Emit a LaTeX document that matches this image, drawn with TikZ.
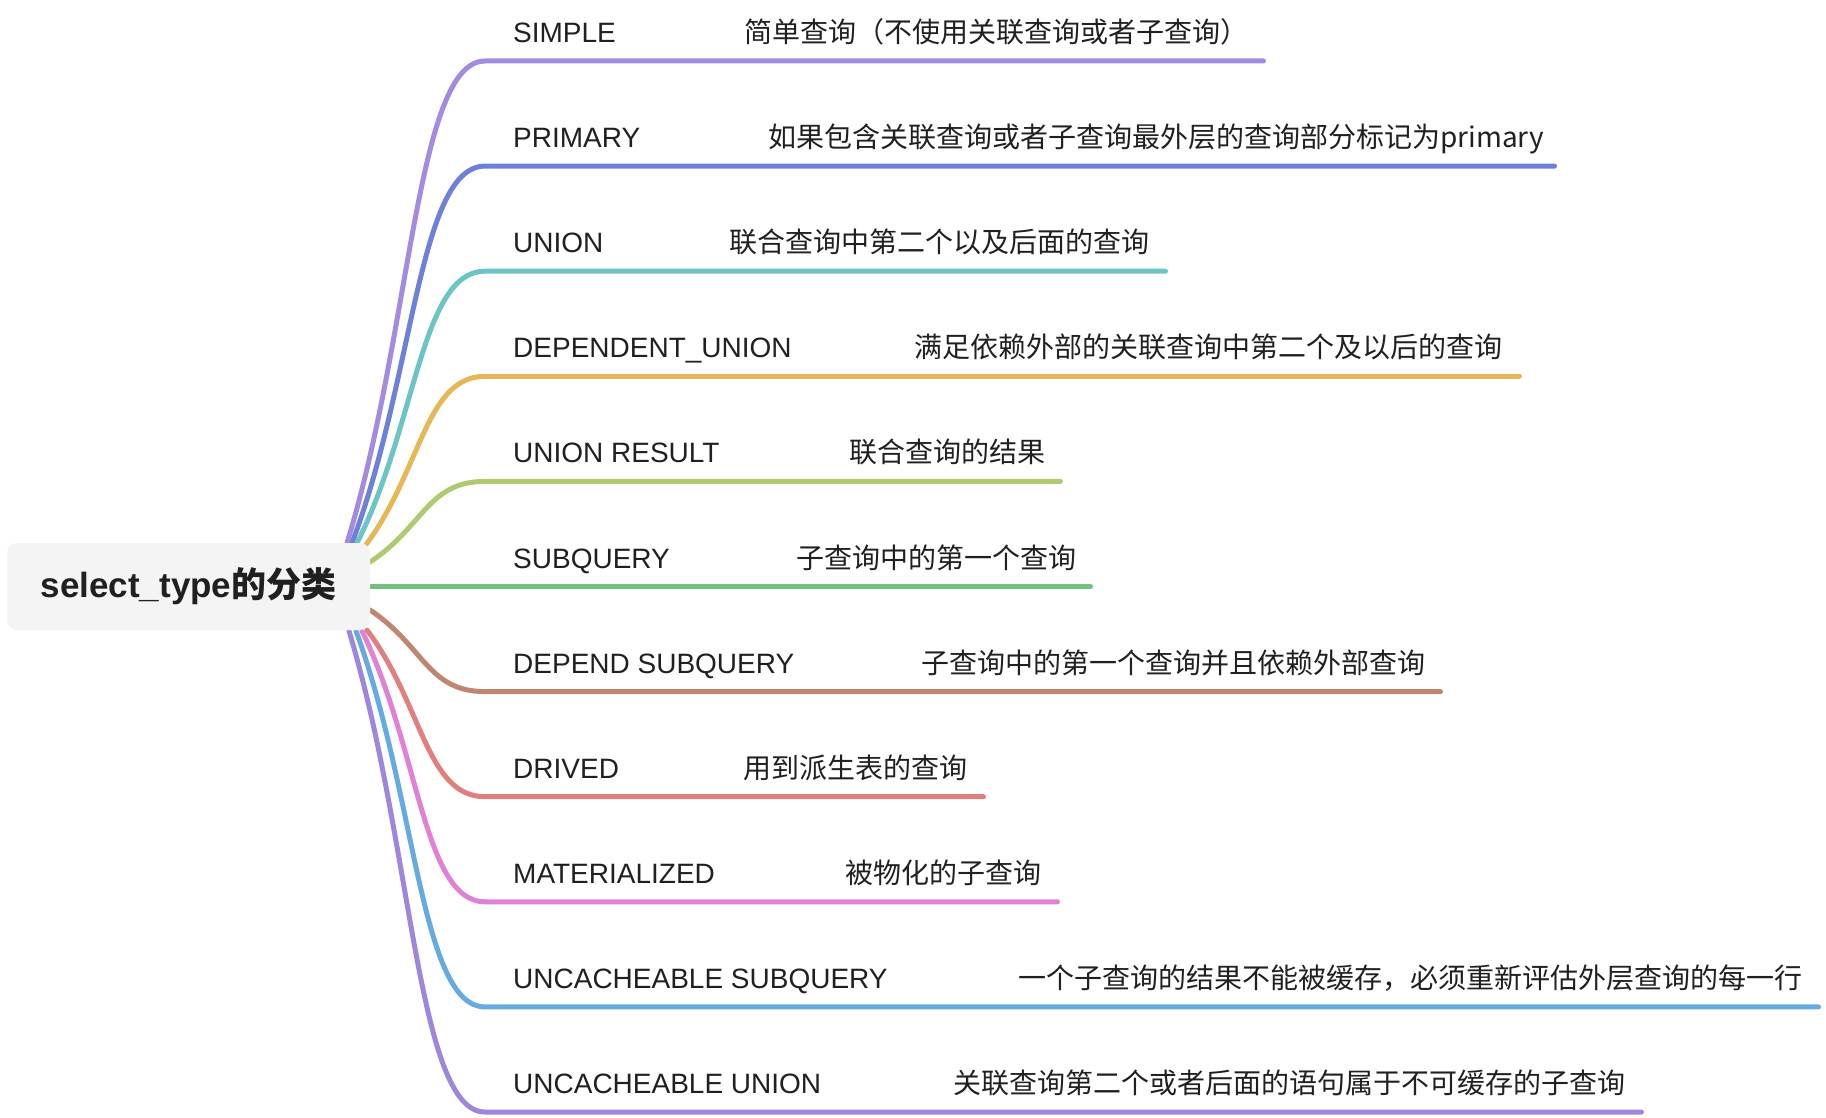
\documentclass[tikz,border=0pt]{standalone}
\usepackage{fontspec}
\setmainfont{Liberation Sans}
\newfontfamily\cjk{Noto Sans CJK SC}
\definecolor{c0}{HTML}{A48AE0}
\definecolor{c1}{HTML}{6D80DA}
\definecolor{c2}{HTML}{6DC4C4}
\definecolor{c3}{HTML}{E5B757}
\definecolor{c4}{HTML}{AFCA70}
\definecolor{c5}{HTML}{74C07F}
\definecolor{c6}{HTML}{C08672}
\definecolor{c7}{HTML}{E07F7E}
\definecolor{c8}{HTML}{E081D6}
\definecolor{c9}{HTML}{65AAE0}
\definecolor{c10}{HTML}{9E86DD}
\definecolor{boxgray}{HTML}{F4F4F4}
\definecolor{txt}{HTML}{202020}
\begin{document}
\begin{tikzpicture}[x=1pt,y=-1pt,
  branch/.style={line width=5pt,line cap=round},
  lab/.style={anchor=base west,inner sep=0pt,text=txt,font=\fontsize{28}{34}\selectfont},
  desc/.style={anchor=base west,inner sep=0pt,text=txt,font=\fontsize{28}{34}\selectfont\cjk},
  rootbox/.style={fill=boxgray,rounded corners=10pt,minimum width=363pt,minimum height=87pt,inner sep=0pt,text=txt,font=\fontsize{35}{42}\selectfont\bfseries}]
\useasboundingbox (0,0) rectangle (1826,1118);
% start points (behind the root box)
\coordinate (s0) at (347,543);
\coordinate (s1) at (352,543);
\coordinate (s2) at (357,543);
\coordinate (s3) at (365,546);
\coordinate (s4) at (370,562);
\coordinate (s5) at (368,586.5);
\coordinate (s6) at (370,610);
\coordinate (s7) at (367,630);
\coordinate (s8) at (362,631);
\coordinate (s9) at (356,631);
\coordinate (s10) at (349,631);
% curve ends
\coordinate (e0) at (485,61);
\coordinate (e1) at (485,166.1);
\coordinate (e2) at (485,271.2);
\coordinate (e3) at (485,376.3);
\coordinate (e4) at (485,481.4);
\coordinate (e6) at (485,691.6);
\coordinate (e7) at (485,796.7);
\coordinate (e8) at (485,901.8);
\coordinate (e9) at (485,1006.9);
\coordinate (e10) at (485,1112);
% line ends
\coordinate (f0) at (1263.5,61);
\coordinate (f1) at (1554.5,166.1);
\coordinate (f2) at (1165.5,271.2);
\coordinate (f3) at (1519.5,376.3);
\coordinate (f4) at (1060.5,481.4);
\coordinate (f5) at (1090.5,586.5);
\coordinate (f6) at (1440.5,691.6);
\coordinate (f7) at (983.5,796.7);
\coordinate (f8) at (1057.5,901.8);
\coordinate (f9) at (1818.5,1006.9);
\coordinate (f10) at (1641.5,1112);
% branches
\draw[branch,c0] (s0) .. controls (411.9,330.9) and (416,61) .. (e0) -- (f0);
\draw[branch,c1] (s1) .. controls (414.5,377.2) and (418.5,166.1) .. (e1) -- (f1);
\draw[branch,c2] (s2) .. controls (417.2,423.4) and (421,271.2) .. (e2) -- (f2);
\draw[branch,c3] (s3) .. controls (421.4,471.3) and (425,376.3) .. (e3) -- (f3);
\draw[branch,c4] (s4) .. controls (424,526.5) and (427.5,481.4) .. (e4) -- (f4);
\draw[branch,c5] (s5) -- (f5);
\draw[branch,c6] (s6) .. controls (424,645.9) and (427.5,691.6) .. (e6) -- (f6);
\draw[branch,c7] (s7) .. controls (422.5,703.3) and (426,796.7) .. (e7) -- (f7);
\draw[branch,c8] (s8) .. controls (419.8,750.2) and (423.5,901.8) .. (e8) -- (f8);
\draw[branch,c9] (s9) .. controls (416.6,796.4) and (420.5,1006.9) .. (e9) -- (f9);
\draw[branch,c10] (s10) .. controls (412.9,842.6) and (417,1112) .. (e10) -- (f10);
% root
\node[rootbox] (root) at (188.5,586.5) {select\_type{\cjk\bfseries 的分类}};
% labels
\node[lab] (l0) at (513,42.5) {SIMPLE};
\node[lab] (l1) at (513,147.6) {PRIMARY};
\node[lab] (l2) at (513,252.7) {UNION};
\node[lab] (l3) at (513,357.8) {DEPENDENT\_UNION};
\node[lab] (l4) at (513,462.9) {UNION RESULT};
\node[lab] (l5) at (513,568) {SUBQUERY};
\node[lab] (l6) at (513,673.1) {DEPEND SUBQUERY};
\node[lab] (l7) at (513,778.2) {DRIVED};
\node[lab] (l8) at (513,883.3) {MATERIALIZED};
\node[lab] (l9) at (513,988.4) {UNCACHEABLE SUBQUERY};
\node[lab] (l10) at (513,1093.5) {UNCACHEABLE UNION};
% descriptions
\node[desc] (d0) at (744,42.5) {简单查询（不使用关联查询或者子查询）};
\node[desc] (d1) at (768,147.6) {如果包含关联查询或者子查询最外层的查询部分标记为primary};
\node[desc] (d2) at (729,252.7) {联合查询中第二个以及后面的查询};
\node[desc] (d3) at (914,357.8) {满足依赖外部的关联查询中第二个及以后的查询};
\node[desc] (d4) at (849,462.9) {联合查询的结果};
\node[desc] (d5) at (796,568) {子查询中的第一个查询};
\node[desc] (d6) at (921,673.1) {子查询中的第一个查询并且依赖外部查询};
\node[desc] (d7) at (743,778.2) {用到派生表的查询};
\node[desc] (d8) at (845,883.3) {被物化的子查询};
\node[desc] (d9) at (1018,988.4) {一个子查询的结果不能被缓存，必须重新评估外层查询的每一行};
\node[desc] (d10) at (953,1093.5) {关联查询第二个或者后面的语句属于不可缓存的子查询};
\end{tikzpicture}
\end{document}
